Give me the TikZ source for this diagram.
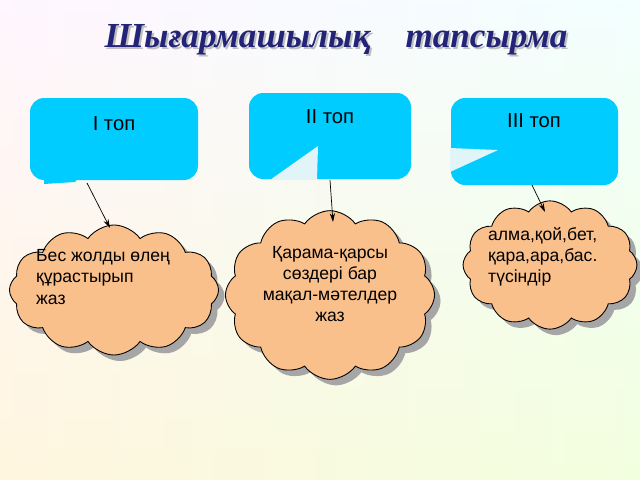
\documentclass[tikz,border=0pt]{standalone}
\usepackage{fontspec}
\setmainfont{Liberation Sans}
\newfontfamily\titlefont{Liberation Serif}
\usetikzlibrary{shapes.symbols,arrows.meta}
\definecolor{boxc}{RGB}{0,204,255}
\definecolor{cloudc}{RGB}{250,192,140}
\definecolor{titlec}{RGB}{35,35,120}
\definecolor{bgn}{RGB}{225,245,248}
\tikzset{
  px/.style={x=0.02cm,y=-0.02cm},
  cl/.style={cloud, cloud puffs=12, cloud puff arc=110, cloud ignores aspect, fill=cloudc, draw=black, line width=0.5pt, font=\fontsize{10}{12}\selectfont, align=center, inner sep=0pt},
  clsh/.style={cloud, cloud puffs=12, cloud puff arc=110, cloud ignores aspect, fill=gray!70, draw=none, inner sep=0pt},
  lbl/.style={font=\fontsize{11.5}{13}\selectfont},
  ttl/.style={font=\titlefont\bfseries\itshape\fontsize{20}{22}\selectfont},
  con/.style={-{Stealth[length=5pt,width=3pt]}, line width=0.4pt}
}
\begin{document}
\begin{tikzpicture}[px]
\useasboundingbox (0,0) rectangle (640,480);
\shade[left color=magenta!7, right color=cyan!10] (0,0) rectangle (640,480);
\shade[top color=white, bottom color=yellow!25, opacity=0.5] (0,0) rectangle (640,480);
\node[ttl, text=gray!50] (tsh) at (338,42) {Шығармашылық\quad тапсырма};
\node[ttl, text=titlec] (title) at (336,40) {Шығармашылық\quad тапсырма};
% boxes
\fill[boxc, rounded corners=8] (30,98) rectangle (198,180);
\fill[boxc] (44,176) -- (44,184) -- (75,182) -- (80,176) -- cycle;
\node[lbl] (b1) at (114,124) {I топ};
\fill[boxc, rounded corners=8] (249,93) rectangle (411,179);
\fill[bgn] (270,180) -- (318,146) -- (317,180) -- cycle;
\node[lbl] (b2) at (330,117) {II топ};
\fill[boxc, rounded corners=8] (451,98) rectangle (618,185);
\fill[bgn] (450,148) -- (498,150) -- (450,172) -- cycle;
\node[lbl] (b3) at (534,121) {III топ};
\coordinate (a1) at (87,183);
\coordinate (a2) at (330,180);
\coordinate (a3) at (532,185);
% clouds
\node[clsh, minimum width=119pt, minimum height=74pt] (s1) at (120,296) {};
\node[cl, minimum width=119pt, minimum height=74pt] (c1) at (114,290) {};
\node[align=left, font=\fontsize{10}{12}\selectfont, anchor=west] (t1) at (30,277) {Бес жолды өлең\\құрастырып\\жаз};
\node[clsh, minimum width=119pt, minimum height=96pt] (s2) at (336,301) {};
\node[cl, minimum width=119pt, minimum height=96pt] (c2) at (330,295) {};
\node[align=center, font=\fontsize{10}{12}\selectfont] (t2) at (330,284) {Қарама-қарсы\\сөздері бар\\мақал-мәтелдер\\жаз};
\node[clsh, minimum width=99pt, minimum height=73pt] (s3) at (556,271) {};
\node[cl, minimum width=99pt, minimum height=73pt] (c3) at (550,265) {};
\node[align=left, font=\fontsize{10}{12}\selectfont, anchor=west] (t3) at (482,257) {алма,қой,бет,\\қара,ара,бас.\\түсіндір};
\draw[con] (a1) -- (110,228);
\draw[con] (a2) -- (333,222);
\draw[con] (a3) -- (545,212);
\end{tikzpicture}
\end{document}
